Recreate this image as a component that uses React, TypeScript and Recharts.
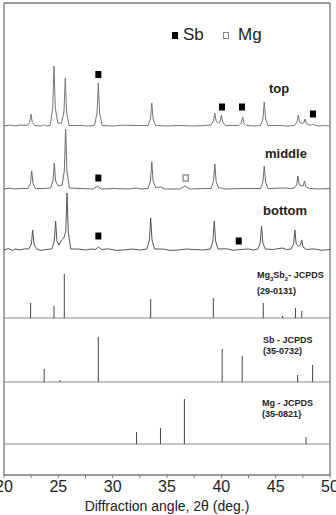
import React from "react"
import { ComposedChart, Line, Scatter, XAxis, YAxis, ReferenceLine } from "recharts"

// 2θ (deg), intensity above the trace baseline (a.u.)
const topScan: [number, number][] = [
  [20, 0], [20.6, 1], [21, 0], [21.5, 1], [22.13, 0.5], [22.36, 3.6], [22.48, 12], [22.6, 3.6], [22.83, 0.5],
  [23.5, 0], [23.7, 1.5], [23.9, 0], [24.25, 0.5], [24.48, 18], [24.6, 60], [24.72, 18], [24.95, 3],
  [25.29, 3], [25.52, 14], [25.64, 48], [25.76, 14], [25.99, 0.5], [27, 0.5], [27.8, 0],
  [28.33, 0.5], [28.56, 13], [28.68, 43], [28.8, 13], [29.03, 0.5], [30, 0], [31, 0.8], [32.2, 0.5],
  [33.25, 0.5], [33.48, 7], [33.6, 23], [33.72, 7], [33.95, 0.5], [35, 0], [36, 0.5], [37.5, 0], [38.6, 0.5],
  [39.05, 1], [39.28, 5], [39.4, 13], [39.52, 5], [39.72, 3], [39.88, 4], [40.0, 11], [40.12, 4], [40.35, 0.5],
  [41.61, 0.5], [41.84, 3], [41.96, 9], [42.08, 3], [42.31, 0.5], [43, 0],
  [43.6, 0.5], [43.83, 7], [43.95, 24], [44.07, 7], [44.3, 0.5], [45.5, 0.5], [46, 0],
  [46.73, 0.5], [46.96, 4], [47.08, 11], [47.2, 4], [47.42, 2.5], [47.58, 3], [47.7, 7], [47.82, 2.5],
  [48.1, 1], [48.3, 1], [48.45, 2], [48.6, 1], [48.9, 0], [49.5, 0.5], [50, 0],
]

const middleScan: [number, number][] = [
  [20, 0], [20.5, 0.8], [21, 0], [21.6, 0.6], [22.2, 0.5], [22.43, 5.5], [22.55, 18], [22.67, 5.5], [22.9, 0.5],
  [23.8, 0.5], [24.28, 1], [24.51, 8], [24.63, 26], [24.75, 8], [25.0, 3],
  [25.35, 4], [25.55, 18], [25.67, 60], [25.79, 18], [26.02, 1], [27, 0.5], [28.2, 0],
  [28.6, 3], [28.95, 0], [30, 0.5], [31.5, 0], [32.2, 1], [32.6, 0],
  [33.25, 0.5], [33.48, 8], [33.6, 27], [33.72, 8], [33.95, 1.5], [34.4, 2], [34.8, 0],
  [36.2, 0], [36.65, 3], [37.1, 0], [38.5, 0.5],
  [39.05, 0.5], [39.28, 7.5], [39.4, 25], [39.52, 7.5], [39.75, 1], [40.0, 1], [40.3, 0], [42, 0.5],
  [43.6, 0.5], [43.83, 7], [43.95, 23], [44.07, 7], [44.3, 0.5], [45.9, 1], [46.4, 0.5],
  [46.7, 1], [46.93, 4], [47.05, 13], [47.17, 4], [47.38, 3], [47.53, 3], [47.65, 8], [47.77, 2.5],
  [48.1, 0.5], [49, 0], [50, 0.5],
]

const bottomScan: [number, number][] = [
  [20, 0], [20.4, 1.5], [20.8, -0.5], [21, 1], [21.5, 0], [21.9, 1.2], [22.29, 1], [22.52, 6], [22.64, 20], [22.76, 6], [23.0, 1],
  [23.4, -0.5], [23.8, 0.5], [24.4, 1], [24.63, 9], [24.75, 29], [24.87, 9], [25.05, 5], [25.3, 10], [25.5, 12],
  [25.68, 18], [25.8, 57], [25.92, 17], [26.15, 1], [26.8, 1], [27.5, 0], [28.0, 1],
  [28.4, 0.5], [28.7, 3], [29.0, 0.5], [29.6, 1.2], [30.3, -0.3], [31, 0], [31.8, 1], [32.5, 0],
  [33.15, 1], [33.38, 10], [33.5, 32], [33.62, 10], [33.85, 1], [34.6, 1], [35.3, -0.4], [36, 0], [36.8, 1], [37.5, 0.5], [38.3, 0],
  [39.0, 1], [39.23, 9], [39.35, 29], [39.47, 9], [39.7, 1], [40.5, 1.2], [41.1, -0.3], [41.7, 0.5], [42.5, 1], [43.0, 0],
  [43.35, 1], [43.58, 7], [43.7, 24], [43.82, 7], [44.05, 1], [44.8, 0.5], [45.6, 2], [46.0, 0.5],
  [46.42, 1], [46.65, 6], [46.77, 20], [46.89, 6], [47.1, 4], [47.28, 5], [47.4, 10], [47.52, 3],
  [47.85, 0.5], [48.5, 1.2], [49.2, -0.3], [50, 0.5],
]

// JCPDS reference lines: 2θ, relative intensity
const mg3sb2Sticks: [number, number][] = [
  [22.45, 15], [24.6, 12], [25.55, 44], [33.5, 19], [39.26, 20], [43.86, 15], [45.64, 2], [46.83, 10], [47.4, 7],
]
const sbSticks: [number, number][] = [
  [23.7, 13], [25.15, 2], [28.68, 45], [40.08, 33], [41.92, 26], [47.02, 7], [48.4, 17],
]
const mgSticks: [number, number][] = [[32.2, 12], [34.4, 16], [36.6, 45], [47.8, 7]]

// phase markers (2θ, plotted height)
const sbMarks: [number, number][] = [
  [28.68, 400.5], [40.06, 368], [41.9, 368], [48.43, 361], [28.68, 297], [28.68, 239], [41.6, 234],
]
const mgMarks: [number, number][] = [[36.72, 297]]

const xTicks = [20, 22.5, 25, 27.5, 30, 32.5, 35, 37.5, 40, 42.5, 45, 47.5, 50]

const font = "'Liberation Sans', Arial, sans-serif"
const toPts = (arr: [number, number][], off = 0) => arr.map(([x, y]) => ({ x, y: y + off }))

const FilledSq = (p: any) => <rect x={p.cx - 3} y={p.cy - 3.5} width={6} height={7} fill="#000" />
const OpenSq = (p: any) => (
  <rect x={p.cx - 2.6} y={p.cy - 3} width={5.2} height={6} fill="#fff" stroke="#888" strokeWidth={1.3} />
)

const abs = (left: number, top: number, extra: React.CSSProperties = {}): React.CSSProperties => ({
  position: "absolute",
  left,
  top,
  fontFamily: font,
  color: "#222",
  whiteSpace: "nowrap",
  ...extra,
})

export default function App() {
  const sticks = (arr: [number, number][], base: number, key: string) =>
    arr.map(([x, h], i) => (
      <ReferenceLine
        key={key + i}
        segment={[{ x, y: base }, { x, y: base + h }]}
        stroke="#444"
        strokeWidth={1}
      />
    ))

  return (
    <div style={{ position: "absolute", left: 0, top: 0, width: 336, height: 515, background: "#fff" }}>
      <ComposedChart width={336} height={515} margin={{ top: 3, right: 6, bottom: 0, left: 4 }}>
        <XAxis
          type="number"
          dataKey="x"
          domain={[20, 50]}
          ticks={xTicks}
          interval={0}
          allowDataOverflow
          height={40}
          tickSize={3}
          tickMargin={3}
          tickFormatter={(v) => (v % 5 === 0 ? String(v) : "")}
          tick={{ fontSize: 16, fill: "#222", fontFamily: font }}
          axisLine={{ stroke: "#777", strokeWidth: 1.3 }}
          tickLine={{ stroke: "#777" }}
          label={{
            value: "Diffraction angle, 2θ (deg.)",
            position: "insideBottom",
            offset: 4,
            fontSize: 14,
            fill: "#222",
            fontFamily: font,
          }}
        />
        <YAxis hide type="number" domain={[0, 472]} allowDataOverflow />

        <ReferenceLine x={20} stroke="#777" strokeWidth={1.3} />
        <ReferenceLine x={50} stroke="#777" strokeWidth={1.3} />
        <ReferenceLine y={472} stroke="#777" strokeWidth={1.3} />
        <ReferenceLine y={157} stroke="#888" strokeWidth={1} />
        <ReferenceLine y={93} stroke="#888" strokeWidth={1} />
        <ReferenceLine y={31} stroke="#888" strokeWidth={1} />

        {sticks(mg3sb2Sticks, 157, "a")}
        {sticks(sbSticks, 93, "b")}
        {sticks(mgSticks, 31, "c")}

        <Line data={toPts(topScan, 349)} dataKey="y" type="linear" stroke="#777" strokeWidth={1} dot={false} isAnimationActive={false} />
        <Line data={toPts(middleScan, 286)} dataKey="y" type="linear" stroke="#6a6a6a" strokeWidth={1} dot={false} isAnimationActive={false} />
        <Line data={toPts(bottomScan, 225)} dataKey="y" type="linear" stroke="#555" strokeWidth={1} dot={false} isAnimationActive={false} />

        <Scatter data={toPts(sbMarks)} dataKey="y" shape={FilledSq} isAnimationActive={false} />
        <Scatter data={toPts(mgMarks)} dataKey="y" shape={OpenSq} isAnimationActive={false} />
      </ComposedChart>

      {/* legend */}
      <div style={{ position: "absolute", left: 172, top: 32, width: 6, height: 7, background: "#000" }} />
      <div style={abs(183, 25, { fontSize: 17, lineHeight: "20px" })}>Sb</div>
      <div
        style={{
          position: "absolute", left: 223, top: 32, width: 4, height: 5,
          border: "1.3px solid #888", background: "#fff",
        }}
      />
      <div style={abs(238, 25, { fontSize: 17, lineHeight: "20px" })}>Mg</div>

      {/* trace labels */}
      <div style={abs(269, 82, { fontSize: 13, fontWeight: "bold", lineHeight: "14px" })}>top</div>
      <div style={abs(265, 147, { fontSize: 13, fontWeight: "bold", lineHeight: "14px" })}>middle</div>
      <div style={abs(263, 204, { fontSize: 13, fontWeight: "bold", lineHeight: "14px" })}>bottom</div>

      <div style={abs(257, 268.5, { fontSize: 9, fontWeight: "bold", lineHeight: "13px" })}>
        Mg<sub style={{ fontSize: 6 }}>3</sub>Sb<sub style={{ fontSize: 6 }}>2</sub>- JCPDS
        <br />
        (29-0131)
      </div>
      <div style={abs(263, 334.5, { fontSize: 9, fontWeight: "bold", lineHeight: "11px" })}>
        Sb - JCPDS
        <br />
        (35-0732)
      </div>
      <div style={abs(262, 398, { fontSize: 9, fontWeight: "bold", lineHeight: "11px" })}>
        Mg - JCPDS
        <br />
        {"(35-0821}"}
      </div>
    </div>
  )
}
